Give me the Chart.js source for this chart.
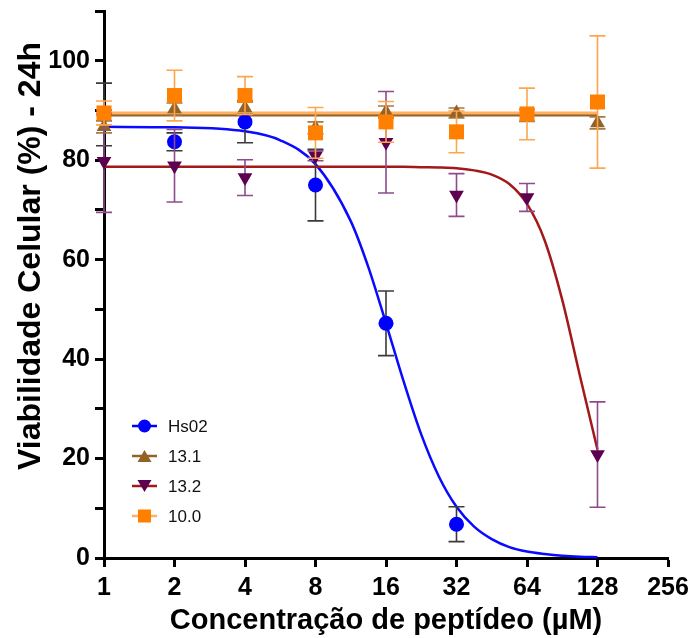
<!DOCTYPE html>
<html><head><meta charset="utf-8">
<script src="https://cdn.jsdelivr.net/npm/chart.js@4/dist/chart.umd.min.js"></script>
<style>html,body{margin:0;padding:0;background:#fff}#wrap{width:689px;height:638px}</style>
</head><body><div id="wrap"><canvas id="c" width="689" height="638"></canvas></div>
<script>
// ---- data ----
const X_TICKS = [1, 2, 4, 8, 16, 32, 64, 128, 256];
const CONC = [1, 2, 4, 8, 16, 32, 64, 128];
const HS02_CONC = [1, 2, 4, 8, 16, 32];
const HS02_MEAN = [89.2, 83.7, 87.7, 75.0, 47.2, 6.8];
const HS02_SD   = [6.3, 1.8, 4.2, 7.2, 6.5, 3.5];
const S131_MEAN = [86.7, 90.3, 90.5, 86.5, 89.7, 89.5, 89.0, 87.5];
const S131_SD   = [1.2, 1.2, 1.2, 1.2, 1.2, 1.0, 1.2, 1.2];
const S132_MEAN = [79.8, 78.9, 76.5, 80.9, 83.6, 73.0, 72.5, 20.8];
const S132_SD   = [10.3, 7.3, 3.6, 1.0, 10.2, 4.3, 2.8, 10.6];
const S100_MEAN = [89.5, 93.0, 93.0, 85.5, 87.7, 85.7, 89.3, 91.7];
const S100_SD   = [2.4, 5.1, 3.8, 5.1, 4.1, 4.2, 5.2, 13.3];
// fitted curves
const CURVE_X    = [1, 2, 4, 5.66, 8, 11.3, 13.45, 16, 19.03, 22.6, 26.9, 32, 38.05, 45.25, 53.8, 64, 76.1, 90.5, 107.6, 128];
const HS02_CURVE = [86.7, 86.6, 85.8, 84.0, 79.2, 67.8, 58.5, 47.2, 35.5, 24.9, 16.4, 10.3, 6.3, 3.8, 2.2, 1.3, 0.8, 0.45, 0.25, 0.15];
const S132_CURVE = [78.7, 78.7, 78.7, 78.7, 78.7, 78.7, 78.7, 78.7, 78.67, 78.6, 78.55, 78.4, 77.95, 77.1, 75.2, 71.2, 63.9, 51.9, 36.7, 21.8];
const FLAT_X     = [1, 128];
const S131_FLAT  = [89.1, 89.1];
const S100_FLAT  = [89.5, 89.5];
const LABELS = ['Hs02', '13.1', '13.2', '10.0'];
const Y_TITLE = 'Viabilidade Celular (%) - 24h';
const X_TITLE = 'Concentração de peptídeo (µM)';

const pts = (xs, ys) => xs.map((x, i) => ({x, y: ys[i]}));
const FONT = 'Liberation Sans, Arial, sans-serif';

const errorBars = {
  id: 'errorBars',
  beforeDatasetDraw(chart, args) {
    const ds = chart.data.datasets[args.index];
    if (!ds.errors) return;
    const {ctx, scales: {x, y}} = chart;
    ctx.save();
    ctx.strokeStyle = ds.errorColor;
    ctx.lineWidth = 1.6;
    ds.data.forEach((p, i) => {
      const e = ds.errors[i];
      if (!e) return;
      const px = x.getPixelForValue(p.x);
      const y1 = y.getPixelForValue(p.y + e), y2 = y.getPixelForValue(p.y - e);
      ctx.beginPath();
      ctx.moveTo(px, y1); ctx.lineTo(px, y2);
      ctx.moveTo(px - 8, y1); ctx.lineTo(px + 8, y1);
      ctx.moveTo(px - 8, y2); ctx.lineTo(px + 8, y2);
      ctx.stroke();
    });
    ctx.restore();
  }
};

const yTitle = {
  id: 'yTitle',
  afterDraw(chart) {
    const {ctx} = chart;
    ctx.save();
    ctx.translate(31, 256);
    ctx.rotate(-Math.PI / 2);
    ctx.fillStyle = '#000';
    ctx.font = 'bold 32px ' + FONT;
    ctx.textAlign = 'center';
    ctx.textBaseline = 'middle';
    ctx.fillText(Y_TITLE, 0, 0);
    ctx.restore();
  }
};

const legendBox = {
  id: 'legendBox',
  afterDraw(chart) {
    const {ctx, chartArea} = chart;
    const items = chart.data.datasets.filter(d => d.legendItem);
    const x0 = chartArea.left + 28, y0 = chartArea.bottom - 132;
    ctx.save();
    items.forEach((d, i) => {
      const yy = y0 + i * 30;
      ctx.strokeStyle = d.legendLine; ctx.lineWidth = 2.5;
      ctx.beginPath(); ctx.moveTo(x0, yy); ctx.lineTo(x0 + 25, yy); ctx.stroke();
      ctx.fillStyle = d.backgroundColor;
      const cx = x0 + 12.5;
      ctx.beginPath();
      if (d.pointStyle === 'circle') { ctx.arc(cx, yy, 6.5, 0, Math.PI * 2); }
      else if (d.pointStyle === 'rect') { ctx.rect(cx - 6.5, yy - 6.5, 13, 13); }
      else if (d.rotation === 180) { ctx.moveTo(cx - 7, yy - 6); ctx.lineTo(cx + 7, yy - 6); ctx.lineTo(cx, yy + 6); ctx.closePath(); }
      else { ctx.moveTo(cx - 7, yy + 6); ctx.lineTo(cx + 7, yy + 6); ctx.lineTo(cx, yy - 6); ctx.closePath(); }
      ctx.fill();
      ctx.fillStyle = '#111';
      ctx.font = '17px ' + FONT;
      ctx.textBaseline = 'middle';
      ctx.fillText(d.label, x0 + 36, yy + 1);
    });
    ctx.restore();
  }
};

const lineDs = (label, xs, ys, color, w, order) => ({
  type: 'line', label, data: pts(xs, ys), borderColor: color, borderWidth: w,
  pointRadius: 0, fill: false, cubicInterpolationMode: 'monotone', order, clip: false
});
const scatterDs = (label, xs, ys, sd, style, rot, radius, fill, errColor, legLine, order) => ({
  type: 'scatter', label, data: pts(xs, ys), errors: sd, errorColor: errColor,
  pointStyle: style, rotation: rot, pointRadius: radius, pointHoverRadius: radius,
  backgroundColor: fill, borderColor: fill, borderWidth: 0, order, clip: false,
  legendItem: true, legendLine: legLine
});

new Chart(document.getElementById('c'), {
  data: {
    datasets: [
      scatterDs(LABELS[0], HS02_CONC, HS02_MEAN, HS02_SD, 'circle', 0, 7.5, '#0000FF', '#3a3a3a', '#0000FF', 8),
      scatterDs(LABELS[1], CONC, S131_MEAN, S131_SD, 'triangle', 0, 8.5, '#946224', '#a57a45', '#946224', 7),
      scatterDs(LABELS[2], CONC, S132_MEAN, S132_SD, 'triangle', 180, 8.5, '#5e0050', '#8e4b8b', '#a31818', 6),
      scatterDs(LABELS[3], CONC, S100_MEAN, S100_SD, 'rect', 0, 10.6, '#FF8000', '#ffa64d', '#ffb060', 5),
      lineDs('Hs02 fit', CURVE_X, HS02_CURVE, '#0a0aff', 2.5, 12),
      lineDs('13.1 fit', FLAT_X, S131_FLAT, '#946224', 3, 11),
      lineDs('13.2 fit', CURVE_X, S132_CURVE, '#a31818', 2.5, 10),
      lineDs('10.0 fit', FLAT_X, S100_FLAT, '#ffb060', 3, 9)
    ]
  },
  options: {
    responsive: false, animation: false, events: [],
    layout: {padding: {top: 11, right: 21, left: 0, bottom: 0}},
    plugins: {legend: {display: false}, tooltip: {enabled: false}},
    scales: {
      x: {
        type: 'logarithmic', min: 1, max: 256,
        afterBuildTicks(s) { s.ticks = X_TICKS.map(v => ({value: v})); },
        afterFit(s) { s.height = 80; s.paddingLeft = 0; s.paddingRight = 0; },
        ticks: {callback: v => String(v), autoSkip: false, maxRotation: 0, color: '#000',
                font: {family: FONT, weight: 'bold', size: 25}, padding: 6},
        grid: {drawOnChartArea: false, tickLength: 9, tickWidth: 3, color: '#000'},
        border: {color: '#000', width: 3},
        title: {display: true, text: X_TITLE, color: '#000',
                font: {family: FONT, weight: 'bold', size: 29}, padding: {top: 0, bottom: 0}}
      },
      y: {
        min: 0, max: 110,
        afterFit(s) { s.width = 104; s.paddingTop = 0; s.paddingBottom = 0; },
        ticks: {stepSize: 10, callback: v => (v % 20 === 0 && v <= 100) ? String(v) : '', color: '#000',
                font: {family: FONT, weight: 'bold', size: 25}, padding: 5},
        grid: {drawOnChartArea: false, tickLength: 9, tickWidth: 3, color: '#000'},
        border: {color: '#000', width: 3},
        title: {display: false}
      }
    }
  },
  plugins: [errorBars, legendBox, yTitle]
});
</script></body></html>
